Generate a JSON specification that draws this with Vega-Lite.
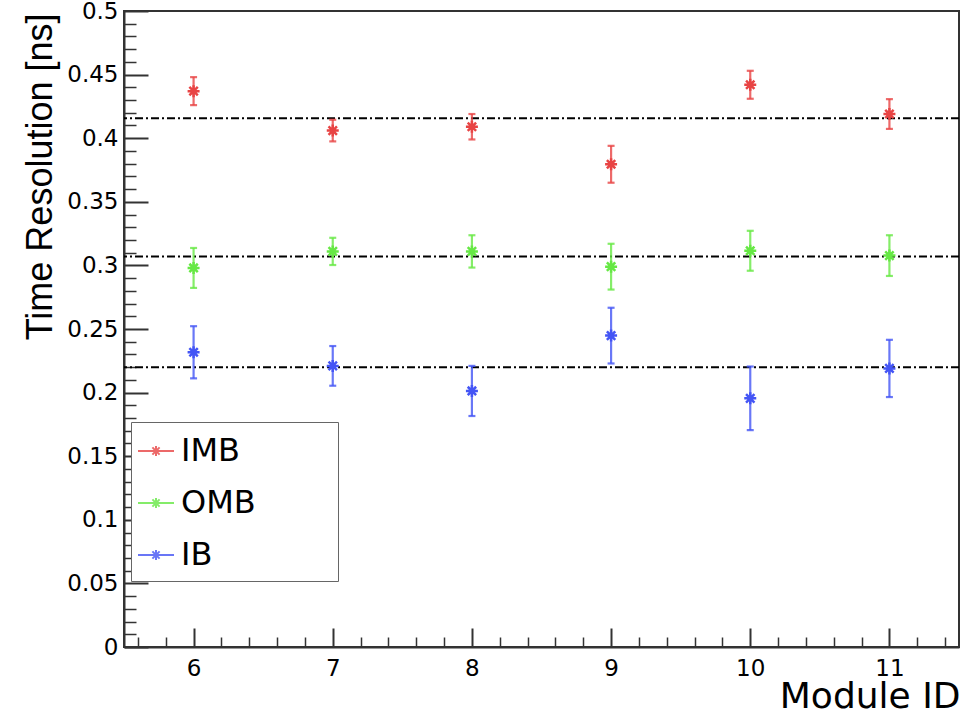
{
  "$schema": "https://vega.github.io/schema/vega-lite/v6.json",
  "width": 835,
  "height": 636,
  "autosize": {"type": "none"},
  "padding": {"left": 124, "top": 11, "right": 7, "bottom": 67},
  "background": "white",
  "config": {"font": "DejaVu Sans", "view": {"stroke": "#333", "strokeWidth": 2}},
  "datasets": {
    "points": [
      {"module": 6, "group": "IMB", "value": 0.437, "err": 0.011},
      {"module": 7, "group": "IMB", "value": 0.406, "err": 0.0085},
      {"module": 8, "group": "IMB", "value": 0.409, "err": 0.010},
      {"module": 9, "group": "IMB", "value": 0.3795, "err": 0.0145},
      {"module": 10, "group": "IMB", "value": 0.442, "err": 0.011},
      {"module": 11, "group": "IMB", "value": 0.419, "err": 0.0117},
      {"module": 6, "group": "OMB", "value": 0.298, "err": 0.0157},
      {"module": 7, "group": "OMB", "value": 0.311, "err": 0.0107},
      {"module": 8, "group": "OMB", "value": 0.311, "err": 0.0127},
      {"module": 9, "group": "OMB", "value": 0.299, "err": 0.018},
      {"module": 10, "group": "OMB", "value": 0.3115, "err": 0.0157},
      {"module": 11, "group": "OMB", "value": 0.3077, "err": 0.016},
      {"module": 6, "group": "IB", "value": 0.2317, "err": 0.0205},
      {"module": 7, "group": "IB", "value": 0.221, "err": 0.0156},
      {"module": 8, "group": "IB", "value": 0.2013, "err": 0.0197},
      {"module": 9, "group": "IB", "value": 0.2448, "err": 0.0219},
      {"module": 10, "group": "IB", "value": 0.1955, "err": 0.025},
      {"module": 11, "group": "IB", "value": 0.219, "err": 0.0225}
    ],
    "means": [
      {"group": "IMB", "mean": 0.4156},
      {"group": "OMB", "mean": 0.3069},
      {"group": "IB", "mean": 0.2199}
    ]
  },
  "resolve": {"axis": {"x": "independent", "y": "independent"}},
  "layer": [
    {
      "data": {"name": "points"},
      "mark": {"type": "point", "opacity": 0},
      "encoding": {
        "x": {"field": "module", "type": "quantitative",
          "scale": {"domain": [5.5, 11.5], "nice": false, "zero": false},
          "axis": {"orient": "bottom", "values": [5.6, 5.8, 6.2, 6.4, 6.6, 6.8, 7.2, 7.4, 7.6, 7.8, 8.2, 8.4, 8.6, 8.8, 9.2, 9.4, 9.6, 9.8, 10.2, 10.4, 10.6, 10.8, 11.2, 11.4],
            "labels": false, "domain": false, "grid": false, "title": null, "tickSize": -10, "tickWidth": 1.5, "tickColor": "#333"}},
        "y": {"field": "value", "type": "quantitative",
          "scale": {"domain": [0, 0.5], "nice": false, "zero": false},
          "axis": {"orient": "left", "values": [0.01, 0.02, 0.03, 0.04, 0.06, 0.07, 0.08, 0.09, 0.11, 0.12, 0.13, 0.14, 0.16, 0.17, 0.18, 0.19, 0.21, 0.22, 0.23, 0.24, 0.26, 0.27, 0.28, 0.29, 0.31, 0.32, 0.33, 0.34, 0.36, 0.37, 0.38, 0.39, 0.41, 0.42, 0.43, 0.44, 0.46, 0.47, 0.48, 0.49],
            "labels": false, "domain": false, "grid": false, "title": null, "tickSize": -12, "tickWidth": 1.5, "tickColor": "#333"}}
      }
    },
    {
      "data": {"name": "points"},
      "mark": {"type": "point", "opacity": 0},
      "encoding": {
        "x": {"field": "module", "type": "quantitative",
          "axis": {"orient": "bottom", "values": [6, 7, 8, 9, 10, 11], "format": "d",
            "grid": false, "tickSize": -19, "tickWidth": 2, "tickColor": "#333", "domainColor": "#333", "domainWidth": 2,
            "labelFontSize": 23, "labelColor": "black", "labelPadding": 29, "labelFlush": false, "labelOverlap": false,
            "title": "Module ID", "titleFontSize": 36, "titleFontWeight": "normal", "titleColor": "black",
            "titleAnchor": "end", "titleAlign": "right", "titleBaseline": "alphabetic", "titleX": 836, "titleY": 60}},
        "y": {"field": "value", "type": "quantitative",
          "axis": {"orient": "left", "values": [0, 0.05, 0.1, 0.15, 0.2, 0.25, 0.3, 0.35, 0.4, 0.45, 0.5], "format": ".2~f",
            "grid": false, "tickSize": -24, "tickWidth": 2, "tickColor": "#333", "domainColor": "#333", "domainWidth": 2,
            "labelFontSize": 23, "labelColor": "black", "labelPadding": 30, "labelFlush": false, "labelOverlap": false,
            "title": "Time Resolution [ns]", "titleFont": "Liberation Sans", "titleFontSize": 36, "titleFontWeight": "normal", "titleColor": "black",
            "titleAngle": -90, "titleAnchor": "end", "titleAlign": "right", "titleBaseline": "alphabetic", "titleX": -73, "titleY": 2}}
      }
    },
    {
      "data": {"name": "means"},
      "mark": {"type": "rule", "strokeDash": [8, 3, 2, 3], "strokeWidth": 2, "color": "black"},
      "encoding": {
        "y": {"field": "mean", "type": "quantitative", "axis": null}
      }
    },
    {
      "data": {"name": "points"},
      "mark": {"type": "errorbar", "ticks": {"size": 7}, "thickness": 2.2, "opacity": 0.8},
      "encoding": {
        "x": {"field": "module", "type": "quantitative", "axis": null},
        "y": {"field": "value", "type": "quantitative", "axis": null},
        "yError": {"field": "err"},
        "color": {"field": "group", "type": "nominal",
          "scale": {"domain": ["IMB", "OMB", "IB"], "range": ["#e84444", "#66e844", "#4455f5"]}}
      }
    },
    {
      "data": {"name": "points"},
      "mark": {"type": "point", "shape": "M-1,0L1,0M0,-1L0,1M-0.7,-0.7L0.7,0.7M-0.7,0.7L0.7,-0.7", "size": 144, "filled": false, "strokeWidth": 2.5, "opacity": 1},
      "encoding": {
        "x": {"field": "module", "type": "quantitative", "axis": null},
        "y": {"field": "value", "type": "quantitative", "axis": null},
        "color": {"field": "group", "type": "nominal",
          "scale": {"domain": ["IMB", "OMB", "IB"], "range": ["#e84444", "#66e844", "#4455f5"]},
          "legend": {"title": "MMM", "titleOrient": "right", "titleFontSize": 24, "titlePadding": 0, "titleOpacity": 0, "titleColor": "#ffffff",
            "orient": "none", "legendX": 7, "legendY": 411,
            "symbolType": "M-1,0L1,0M0,-0.28L0,0.28M-0.2,-0.2L0.2,0.2M-0.2,0.2L0.2,-0.2",
            "symbolSize": 1296, "symbolStrokeWidth": 2, "symbolOpacity": 1, "symbolOffset": -4,
            "labelFontSize": 32, "labelFont": "DejaVu Sans", "labelColor": "black", "labelOffset": 6,
            "rowPadding": 17, "padding": 10, "strokeColor": "#666", "fillColor": "white"}}
      }
    }
  ]
}
